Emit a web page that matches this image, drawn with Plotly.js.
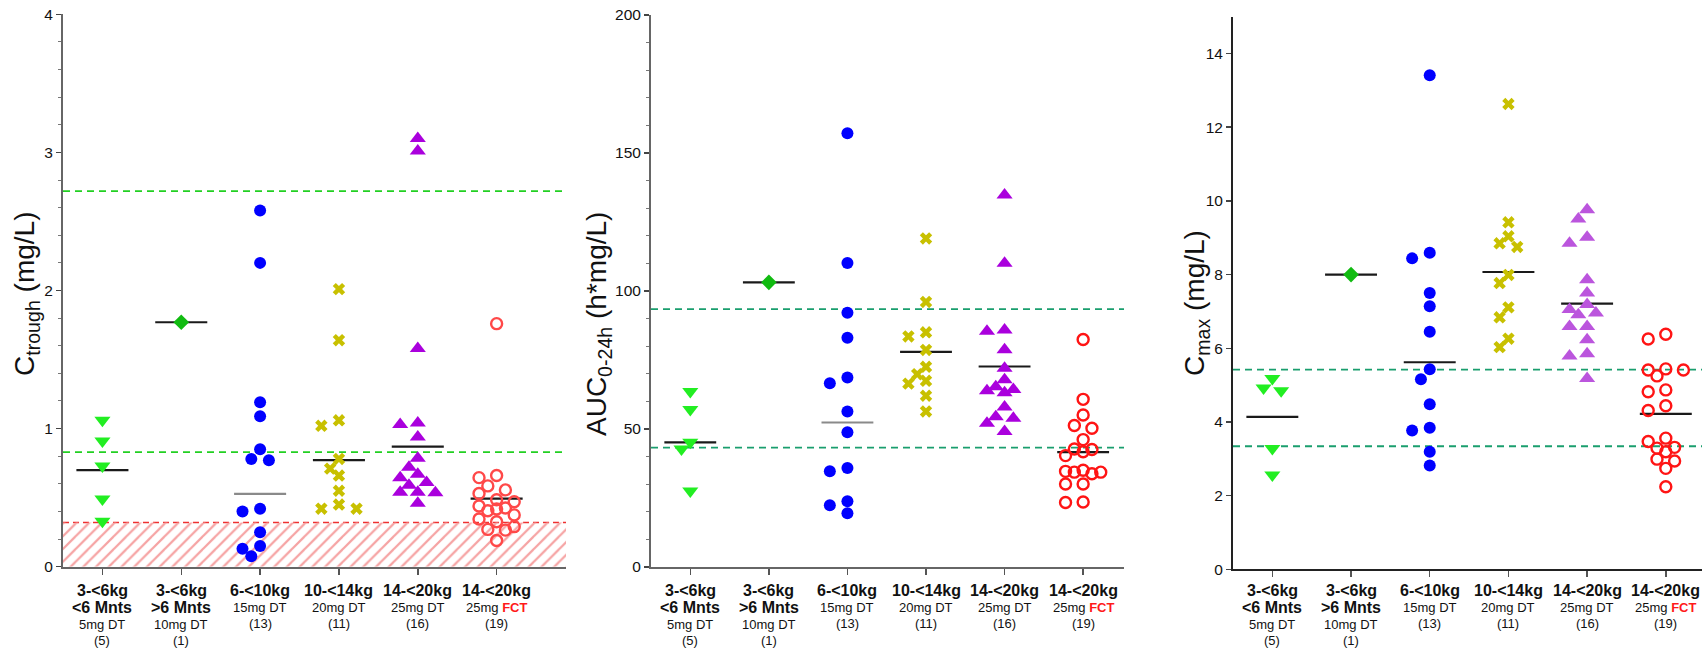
<!DOCTYPE html>
<html>
<head>
<meta charset="utf-8">
<script src="https://cdn.plot.ly/plotly-3.0.1.min.js"></script>
<style>html,body{margin:0;padding:0;background:#fff;}#chart{width:1702px;height:649px;}</style>
</head>
<body>
<div id="chart"></div>
<script>
// ---------- category labels ----------
const groupWeight = ["3-&lt;6kg", "3-&lt;6kg", "6-&lt;10kg", "10-&lt;14kg", "14-&lt;20kg", "14-&lt;20kg"];
const groupAge = ["&lt;6 Mnts", "&gt;6 Mnts", "", "", "", ""];
const groupDose = ["5mg DT", "10mg DT", "15mg DT", "20mg DT", "25mg DT", "25mg FCT"];
const groupN = ["(5)", "(1)", "(13)", "(11)", "(16)", "(19)"];

// ---------- C trough (mg/L) ----------
const trough0 = [1.06, 0.91, 0.73, 0.49, 0.33];
const trough1 = [1.77];
const trough2 = [2.58, 2.20, 1.19, 1.09, 0.85, 0.78, 0.77, 0.42, 0.40, 0.25, 0.15, 0.13, 0.075];
const trough3 = [2.01, 1.64, 1.06, 1.02, 0.78, 0.71, 0.66, 0.55, 0.45, 0.42, 0.42];
const trough4 = [3.10, 3.01, 1.58, 1.04, 1.03, 0.94, 0.785, 0.72, 0.67, 0.645, 0.61, 0.59, 0.54, 0.54, 0.535, 0.46];
const trough5 = [1.76, 0.66, 0.645, 0.585, 0.556, 0.53, 0.485, 0.47, 0.44, 0.425, 0.418, 0.405, 0.375, 0.345, 0.326, 0.29, 0.27, 0.265, 0.19];
const troughCentre = [0.70, 1.77, 0.527, 0.771, 0.87, 0.493];
const troughTargets = [2.72, 0.83];
const troughLimit = 0.32;

// ---------- AUC 0-24h (h*mg/L) ----------
const auc0 = [63.5, 57.0, 45.1, 42.7, 27.5];
const auc1 = [103.1];
const auc2 = [157.1, 110.1, 92.1, 83.0, 68.6, 66.5, 56.3, 48.8, 35.8, 34.6, 23.8, 22.3, 19.4];
const auc3 = [119.0, 96.0, 85.0, 83.5, 78.6, 72.5, 69.8, 67.4, 66.4, 62.0, 56.3];
const auc4 = [134.8, 110.0, 85.8, 85.4, 78.7, 72.0, 67.8, 65.3, 64.3, 63.8, 63.1, 57.9, 54.4, 53.8, 52.0, 49.0];
const auc5 = [82.4, 60.7, 55.0, 51.2, 50.2, 46.1, 42.7, 42.5, 41.7, 40.3, 35.0, 34.6, 34.3, 34.3, 33.7, 30.0, 30.0, 23.5, 23.3];
const aucCentre = [45.1, 103.1, 52.3, 77.9, 72.6, 41.6];
const aucTargets = [93.4, 43.2];

// ---------- C max (mg/L) ----------
const cmax0 = [5.18, 4.92, 4.85, 3.28, 2.56];
const cmax1 = [8.0];
const cmax2 = [13.41, 8.59, 8.44, 7.50, 7.14, 6.45, 5.43, 5.16, 4.48, 3.84, 3.77, 3.19, 2.82];
const cmax3 = [12.63, 9.42, 9.04, 8.85, 8.75, 7.99, 7.77, 7.11, 6.84, 6.26, 6.03];
const cmax4 = [9.76, 9.51, 9.01, 8.85, 7.86, 7.50, 7.19, 7.05, 6.96, 6.91, 6.59, 6.59, 6.23, 5.85, 5.79, 5.18];
const cmax5 = [6.38, 6.25, 5.44, 5.41, 5.41, 5.25, 4.87, 4.82, 4.44, 4.31, 3.56, 3.47, 3.31, 3.29, 3.19, 2.99, 2.94, 2.74, 2.24];
const cmaxCentre = [4.14, 8.0, 5.62, 8.07, 7.21, 4.22];
const cmaxTargets = [5.42, 3.34];

// ---------- axis titles ----------
const yTitles = ['C<sub>trough</sub> (mg/L)', 'AUC<sub>0-24h</sub> (h*mg/L)', 'C<sub>max</sub> (mg/L)'];

// ---------- layout geometry ----------
const W = 1702, H = 649;
const panels = [
  {xd: [63 / W, 566 / W], yd: [1 - 566.7 / H, 1 - 14.3 / H], xr: [-0.5, 5.88], yr: [0, 4],
   groups: [trough0, trough1, trough2, trough3, trough4, trough5], centre: troughCentre,
   targets: troughTargets, targetColor: '#22d022', titlePos: [26, 294],
   dtick: 1, minor: 0.2, axisColor: '#666', purple: '#aa00dd', red: '#ff4848', grayMid: true},
  {xd: [651 / W, 1124 / W], yd: [1 - 566.8 / H, 1 - 15 / H], xr: [-0.5, 5.52], yr: [0, 200],
   groups: [auc0, auc1, auc2, auc3, auc4, auc5], centre: aucCentre,
   targets: aucTargets, targetColor: '#1a9e6e', titlePos: [598, 324],
   dtick: 50, minor: 10, axisColor: '#666', purple: '#aa00dd', red: '#ff1414', grayMid: true},
  {xd: [1233 / W, 1], yd: [1 - 569.3 / H, 1 - 16.7 / H], xr: [-0.5, 5.46], yr: [0, 15],
   groups: [cmax0, cmax1, cmax2, cmax3, cmax4, cmax5], centre: cmaxCentre,
   targets: cmaxTargets, targetColor: '#1a9e6e', titlePos: [1196, 303],
   dtick: 2, minor: null, axisColor: '#222', purple: '#bb55dd', red: '#ff1414', grayMid: false}
];
// vertical centres (px from top) of the label lines under each category
const lineY4 = [590, 607, 624, 640];
const lineY3 = [590, 607, 623.5];

// GraphPad-like scatter spreading: greedy placement in pixel space, limited width
function spread(values, pxPerUnit, slotPx, pxPerCat, D) {
  const order = values.map((v, i) => i).sort((a, b) => values[b] - values[a]);
  const cands = [0, -1, 1, -2, 2];
  const placed = [];
  const off = new Array(values.length).fill(0);
  order.forEach(i => {
    const y = values[i] * pxPerUnit;
    let best = null, bestD = -1;
    for (const c of cands) {
      const x = c * slotPx;
      let md = Infinity;
      placed.forEach(p => { md = Math.min(md, Math.hypot(p.x - x, p.y - y)); });
      if (md >= D) { best = x; break; }
      if (md > bestD + 0.5) { bestD = md; best = x; }
    }
    placed.push({x: best, y});
    off[i] = best / pxPerCat;
  });
  return off;
}

const traces = [];
const shapes = [];
const annotations = [];
const layout = {
  width: W, height: H, margin: {l: 0, r: 0, t: 0, b: 0},
  paper_bgcolor: '#fff', plot_bgcolor: 'rgba(0,0,0,0)', showlegend: false,
  font: {family: 'Liberation Sans, Arial, sans-serif', color: '#111'},
  shapes: shapes, annotations: annotations
};

panels.forEach((P, k) => {
  const xa = 'x' + (k === 0 ? '' : k + 1);
  const ya = 'y' + (k === 0 ? '' : k + 1);
  const xKey = 'xaxis' + (k === 0 ? '' : k + 1);
  const yKey = 'yaxis' + (k === 0 ? '' : k + 1);
  const pxPerUnit = (P.yd[1] - P.yd[0]) * H / (P.yr[1] - P.yr[0]);
  const pxPerCat = (P.xd[1] - P.xd[0]) * W / (P.xr[1] - P.xr[0]);

  layout[xKey] = {
    domain: P.xd, range: P.xr, anchor: ya, showgrid: false, zeroline: false,
    showline: true, linecolor: P.axisColor, linewidth: 2,
    tickmode: 'array', tickvals: [0, 1, 2, 3, 4, 5], showticklabels: false,
    ticks: 'outside', ticklen: 6, tickwidth: 1.5, tickcolor: '#555', fixedrange: true
  };
  layout[yKey] = {
    domain: P.yd, range: P.yr, anchor: xa, showgrid: false, zeroline: false,
    showline: true, linecolor: P.axisColor, linewidth: 2,
    dtick: P.dtick, tick0: 0, ticks: 'outside', ticklen: 5, tickwidth: 1.5, tickcolor: '#444',
    tickfont: {size: 15.5, color: '#111'},
    fixedrange: true
  };
  if (P.minor) {
    layout[yKey].minor = {dtick: P.minor, ticks: 'outside', ticklen: 3, tickwidth: 1, tickcolor: '#777', showgrid: false};
  }
  annotations.push({
    text: yTitles[k], xref: 'paper', yref: 'paper', x: P.titlePos[0] / W, y: 1 - P.titlePos[1] / H,
    xanchor: 'center', yanchor: 'middle', textangle: -90, showarrow: false,
    font: {size: 28, color: '#111'}
  });

  // category labels, one text per line
  groupWeight.forEach((w, i) => {
    const lines = [{t: '<b>' + w + '</b>', s: 16}];
    if (groupAge[i]) lines.push({t: '<b>' + groupAge[i] + '</b>', s: 16});
    let dose = groupDose[i];
    if (dose.indexOf('FCT') >= 0) dose = dose.replace('FCT', '<b><span style="color:#ff1a1a">FCT</span></b>');
    lines.push({t: dose, s: 13});
    lines.push({t: groupN[i], s: 13});
    const ys = lines.length === 4 ? lineY4 : lineY3;
    lines.forEach((ln, j) => {
      annotations.push({
        text: ln.t, xref: xa, yref: 'paper', x: i, y: 1 - ys[j] / H,
        xanchor: 'center', yanchor: 'middle', showarrow: false,
        font: {size: ln.s, color: '#111'}, borderpad: 0
      });
    });
  });

  // hatched lower-limit band (Ctrough only)
  if (k === 0) {
    traces.push({
      x: [P.xr[0], P.xr[1]], y: [troughLimit, troughLimit], xaxis: xa, yaxis: ya,
      mode: 'lines', line: {width: 0}, fill: 'tozeroy', fillcolor: 'rgba(0,0,0,0)',
      fillpattern: {shape: '/', fgcolor: '#f6a3a3', bgcolor: 'rgba(255,255,255,0)', size: 9, solidity: 0.25},
      hoverinfo: 'skip'
    });
    shapes.push({type: 'line', xref: xa + ' domain', yref: ya, x0: 0, x1: 1, y0: troughLimit, y1: troughLimit,
      line: {color: '#ee3030', width: 1.6, dash: '6px,4px'}, layer: 'below'});
  }
  P.targets.forEach(t => {
    shapes.push({type: 'line', xref: xa + ' domain', yref: ya, x0: 0, x1: 1, y0: t, y1: t,
      line: {color: P.targetColor, width: 1.8, dash: '7px,5px'}, layer: 'below'});
  });

  // central tendency lines
  P.centre.forEach((m, i) => {
    traces.push({
      x: [i - 0.33, i + 0.33], y: [m, m], xaxis: xa, yaxis: ya, mode: 'lines',
      line: {color: (P.grayMid && i === 2) ? '#8a8a8a' : '#1a1a1a', width: 2.2}, hoverinfo: 'skip'
    });
  });

  // points
  const styles = [
    {symbol: 'triangle-down', color: '#22ee22', size: 14},
    {symbol: 'diamond', color: '#11bb11', size: 12},
    {symbol: 'circle', color: '#0000ff', size: 12},
    {symbol: 'x', color: '#c8c000', size: 11},
    {symbol: 'triangle-up', color: P.purple, size: 14},
    {symbol: 'circle-open', color: P.red, size: 11}
  ];
  P.groups.forEach((vals, i) => {
    const off = spread(vals, pxPerUnit, 8.8, pxPerCat, 11);
    const st = styles[i];
    const marker = {symbol: st.symbol, color: st.color, size: st.size};
    if (st.symbol === 'circle-open') marker.line = {color: st.color, width: 2.4};
    else marker.line = {width: 0};
    traces.push({
      x: vals.map((v, j) => i + off[j]), y: vals, xaxis: xa, yaxis: ya,
      mode: 'markers', marker: marker, hoverinfo: 'y'
    });
  });
});

Plotly.newPlot('chart', traces, layout, {staticPlot: true, displayModeBar: false});
</script>
</body>
</html>
